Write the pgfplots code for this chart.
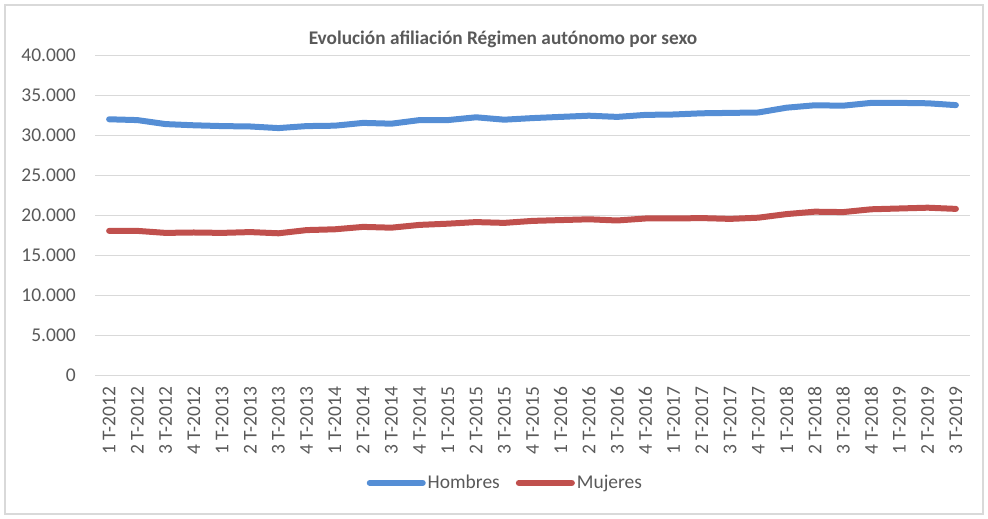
\documentclass[border=0pt]{standalone}
\usepackage{fontspec}
\setmainfont{Carlito}
\usepackage{pgfplots}
\pgfplotsset{compat=1.18}
\definecolor{hblue}{RGB}{85,142,213}
\definecolor{mred}{RGB}{192,80,77}
\definecolor{gridc}{RGB}{217,217,217}
\definecolor{txt}{RGB}{89,89,89}
\begin{document}
\begin{tikzpicture}[x=1bp,y=1bp]
\path[use as bounding box] (0,0) rectangle (988,519);
\draw[gridc, line width=1.3bp] (5,5) rectangle (983,514);
\begin{axis}[
  at={(95bp,143.3bp)}, anchor=south west,
  scale only axis, width=875bp, height=320bp,
  xmin=-0.5, xmax=30.5, ymin=0, ymax=40000,
  scaled y ticks=false,
  axis line style={draw=none},
  tick style={draw=none},
  ymajorgrids, grid style={gridc, line width=1.5bp},
  ytick={0,5000,10000,15000,20000,25000,30000,35000,40000},
  yticklabels={0,5.000,10.000,15.000,20.000,25.000,30.000,35.000,40.000},
  xtick={0,...,30},
  xticklabels={1 T-2012,2 T-2012,3 T-2012,4 T-2012\ ,1 T-2013,2 T-2013,3 T-2013,4 T-2013\ ,
    1 T-2014,2 T-2014,3 T-2014,4 T-2014\ ,1 T-2015,2 T-2015,3 T-2015,4 T-2015\ ,
    1 T-2016,2 T-2016,3 T-2016,4 T-2016\ ,1 T-2017,2 T-2017,3 T-2017,4 T-2017\ ,
    1 T-2018,2 T-2018,3 T-2018,4 T-2018\ ,1 T-2019,2 T-2019,3 T-2019},
  x tick label style={rotate=90, anchor=east, inner sep=0pt, text=txt,
    font=\fontsize{19.5bp}{23bp}\selectfont},
  xticklabel shift=11bp,
  y tick label style={anchor=east, inner sep=0pt, text=txt,
    font=\fontsize{19.5bp}{23bp}\selectfont},
  yticklabel shift=19bp,
  legend columns=2,
  legend style={draw=none, fill=none, at={(0.469,-0.335)}, anchor=center,
    font=\fontsize{19.5bp}{23bp}\selectfont, text=txt,
    /tikz/every even column/.append style={column sep=14bp},
    inner sep=0pt},
  legend image code/.code={\draw[#1, line width=6bp, line cap=round] (0bp,0bp) -- (53bp,0bp);},
  every axis plot/.append style={line width=6bp, line cap=round, line join=round},
]
\addplot[hblue] coordinates {
(0,32050) (1,31950) (2,31450) (3,31300) (4,31200) (5,31150) (6,30950) (7,31200)
(8,31250) (9,31600) (10,31500) (11,31950) (12,31950) (13,32300) (14,32000) (15,32200)
(16,32350) (17,32500) (18,32350) (19,32600) (20,32650) (21,32800) (22,32850) (23,32900)
(24,33500) (25,33800) (26,33750) (27,34100) (28,34100) (29,34050) (30,33820)};
\addlegendentry{Hombres}
\addplot[mred] coordinates {
(0,18100) (1,18100) (2,17850) (3,17900) (4,17850) (5,17950) (6,17800) (7,18200)
(8,18300) (9,18600) (10,18500) (11,18850) (12,19000) (13,19200) (14,19100) (15,19350)
(16,19450) (17,19550) (18,19400) (19,19650) (20,19650) (21,19700) (22,19600) (23,19750)
(24,20200) (25,20500) (26,20450) (27,20800) (28,20900) (29,21000) (30,20850)};
\addlegendentry{Mujeres}
\end{axis}
\node[text=txt, font=\bfseries\fontsize{19.3bp}{23bp}\selectfont] at (503,480) {Evolución afiliación Régimen autónomo por sexo};
\end{tikzpicture}
\end{document}
